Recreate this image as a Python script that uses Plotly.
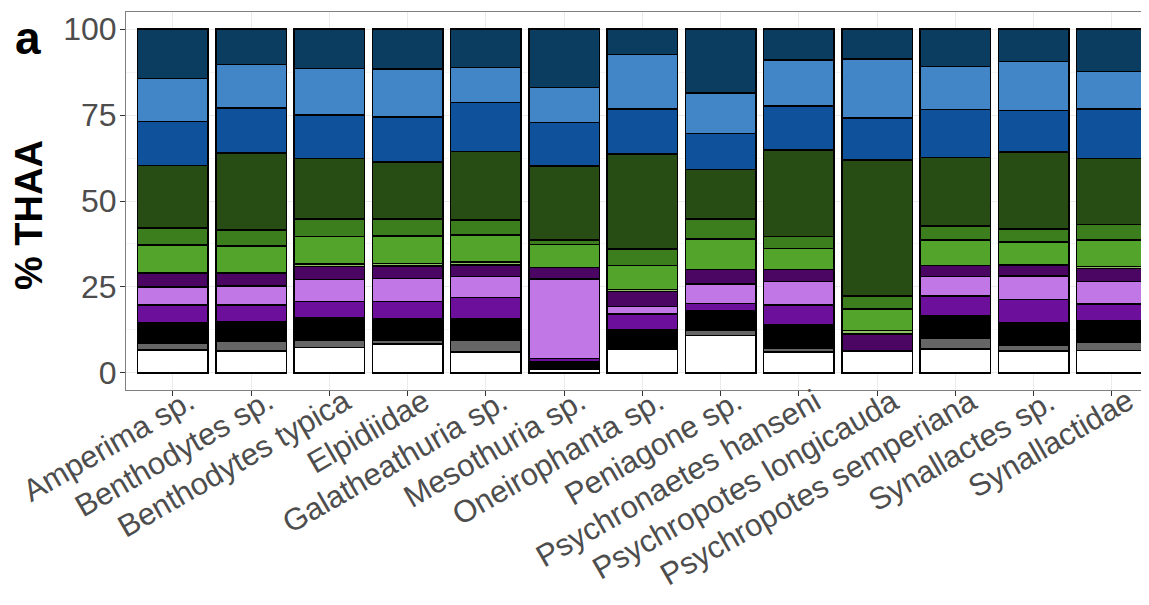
import plotly.graph_objects as go

categories = ["Amperima sp.", "Benthodytes sp.", "Benthodytes typica", "Elpidiidae",
              "Galatheathuria sp.", "Mesothuria sp.", "Oneirophanta sp.", "Peniagone sp.",
              "Psychronaetes hanseni", "Psychropotes longicauda", "Psychropotes semperiana",
              "Synallactes sp.", "Synallactidae"]

# segment values (% THAA), bottom to top
seg_white      = [6.7, 6.4, 7.4, 8.4, 6.0, 1.0, 7.0, 10.8, 6.0, 6.3, 7.0, 6.4, 6.5]
seg_gray       = [2.0, 2.8, 2.2, 1.0, 3.6, 0.2, 0.0, 1.7, 1.2, 0.0, 3.1, 1.5, 2.4]
seg_black      = [6.0, 5.8, 6.4, 6.3, 6.1, 2.1, 5.6, 5.5, 6.7, 0.0, 6.5, 6.8, 6.3]
seg_purple     = [5.1, 4.7, 4.7, 5.0, 6.2, 0.8, 4.5, 2.2, 5.8, 0.0, 5.8, 6.6, 4.8]
seg_lavender   = [5.2, 5.6, 6.4, 6.8, 6.1, 23.2, 2.2, 5.6, 6.9, 0.0, 5.6, 6.9, 6.6]
seg_darkpurple = [4.0, 3.7, 3.8, 3.6, 3.4, 3.3, 4.3, 4.2, 3.4, 5.0, 3.3, 3.2, 3.8]
seg_lightgreen = [0.0, 0.0, 0.7, 0.7, 0.9, 0.0, 0.6, 0.0, 0.0, 1.0, 0.0, 0.0, 0.6]
seg_green      = [8.2, 7.9, 8.1, 8.0, 7.8, 6.8, 7.1, 8.9, 6.2, 6.3, 7.3, 6.7, 7.7]
seg_midgreen   = [4.9, 4.7, 5.0, 4.9, 4.4, 1.2, 4.7, 5.8, 3.5, 3.8, 4.1, 3.7, 4.5]
seg_darkgreen  = [18.2, 22.4, 17.7, 16.6, 19.9, 21.6, 27.7, 14.5, 25.1, 39.5, 19.9, 22.4, 19.1]
seg_blue       = [12.8, 13.0, 12.7, 13.1, 14.3, 12.7, 13.1, 10.4, 12.8, 12.3, 14.0, 12.2, 14.5]
seg_lightblue  = [12.5, 12.7, 13.5, 14.0, 10.2, 10.2, 15.8, 11.8, 13.5, 17.1, 12.6, 14.2, 10.9]
seg_navy       = [14.4, 10.3, 11.4, 11.6, 11.1, 16.9, 7.4, 18.6, 8.9, 8.7, 10.8, 9.4, 12.3]

y_ticks = [0, 25, 50, 75, 100]

series = [
    ("white", seg_white, "#FFFFFF"),
    ("gray", seg_gray, "#666666"),
    ("black", seg_black, "#000000"),
    ("purple", seg_purple, "#6C109C"),
    ("lavender", seg_lavender, "#C178E6"),
    ("dark purple", seg_darkpurple, "#4A0662"),
    ("light green", seg_lightgreen, "#8CC063"),
    ("green", seg_green, "#52A42A"),
    ("mid green", seg_midgreen, "#3C7D1E"),
    ("dark green", seg_darkgreen, "#274D14"),
    ("blue", seg_blue, "#0F519B"),
    ("light blue", seg_lightblue, "#4286C8"),
    ("navy", seg_navy, "#0B3D61"),
]

xpos = list(range(1, len(categories) + 1))

fig = go.Figure()
for name, vals, col in series:
    fig.add_trace(go.Bar(
        x=xpos, y=vals, name=name, width=0.9,
        marker=dict(color=col, line=dict(color="black", width=1.5)),
    ))

font = "Liberation Sans, Arial, sans-serif"
OFF = 8  # page body margin
W, H = 1149 - OFF, 605 - OFF
L, R, T = 126 - OFF, 0, 12 - OFF
B = (OFF + H) - 390
pw, ph = W - L - R, H - T - B

def px_to_paper(px, py):
    return (px - OFF - L) / pw, 1 - (py - OFF - T) / ph

annotations = []
# x category labels, rotated like ggplot angle=30, hjust=1
for xi, lab in zip(xpos, categories):
    annotations.append(dict(
        text=lab, x=xi, xref="x", y=0, yref="paper", textangle=-30,
        xanchor="right", yanchor="top", xshift=30, yshift=10, showarrow=False,
        font=dict(size=31, color="#4D4D4D", family=font)))

ax, ay = px_to_paper(28, 38)
annotations.append(dict(text="<b>a</b>", x=ax, y=ay, xref="paper", yref="paper",
                        xanchor="center", yanchor="middle", showarrow=False,
                        font=dict(size=46, color="black", family=font)))
tx, ty = px_to_paper(29, 215)
annotations.append(dict(text="<b>% THAA</b>", textangle=-90, x=tx, y=ty, xref="paper", yref="paper",
                        xanchor="center", yanchor="middle", showarrow=False,
                        font=dict(size=38, color="black", family=font)))

x_right = 0.4 + pw / ((1112 - 173) / 12.0)

fig.update_layout(
    barmode="stack",
    width=W, height=H,
    margin=dict(l=L, r=R, t=T, b=B, autoexpand=False),
    paper_bgcolor="white", plot_bgcolor="white",
    showlegend=False,
    font=dict(family=font, color="#4D4D4D"),
    xaxis=dict(
        range=[0.4, x_right], tickmode="array", tickvals=xpos, showticklabels=False,
        showgrid=True, gridcolor="#EBEBEB", gridwidth=1, automargin=False,
        ticks="outside", ticklen=5, tickcolor="#333333", tickwidth=1,
        showline=True, linecolor="#7F7F7F", linewidth=1, mirror=True, zeroline=False,
    ),
    yaxis=dict(
        range=[-5, 105], tickmode="array", tickvals=y_ticks, automargin=False,
        tickfont=dict(size=32, color="#4D4D4D"), ticklabelstandoff=-3,
        showgrid=True, gridcolor="#EBEBEB", gridwidth=1,
        minor=dict(tickvals=[12.5, 37.5, 62.5, 87.5], showgrid=True, gridcolor="#F4F4F4", ticks=""),
        ticks="outside", ticklen=5, tickcolor="#333333", tickwidth=1,
        showline=True, linecolor="#7F7F7F", linewidth=1, mirror=True, zeroline=False,
    ),
    annotations=annotations,
)

fig.write_html("out.html")
